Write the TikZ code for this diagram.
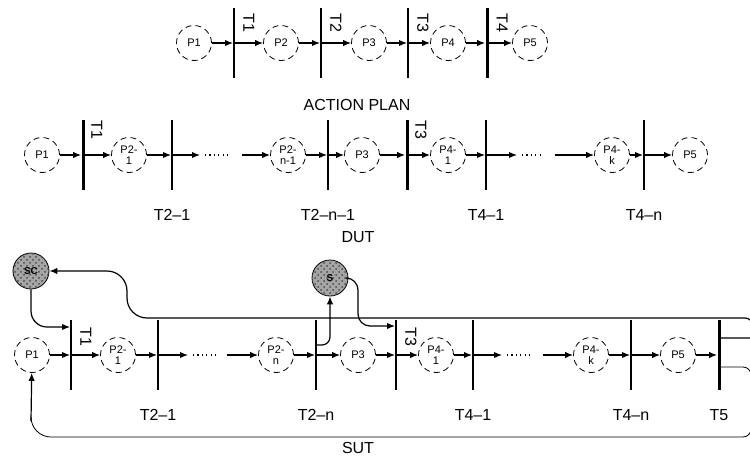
\documentclass[tikz,border=0pt]{standalone}
\usepackage{fontspec}
\setmainfont{Liberation Sans}
\definecolor{ShadeGray}{RGB}{165,165,165}
\usetikzlibrary{arrows.meta,positioning,calc,patterns}

\begin{document}
\begin{tikzpicture}[x=0.5pt,y=-0.5pt,
  place/.style={circle,draw,densely dashed,line width=0.4pt,minimum size=17.5pt,inner sep=0pt,align=center,font=\fontsize{5.5}{5.5}\selectfont},
  trans/.style={fill=black,minimum width=0.6pt,minimum height=35pt,inner sep=0pt},
  transbold/.style={trans,minimum width=1.5pt},
  shade/.style={circle,draw,fill=ShadeGray,postaction={pattern=crosshatch dots,pattern color=black!70},minimum size=18pt,inner sep=0pt,font=\fontsize{5}{5}\selectfont\bfseries},
  arc/.style={-{Latex[length=4pt,width=3.2pt]},line width=0.6pt},
  gap/.style={line width=0.6pt,dash pattern=on 0.6pt off 1.6pt},
  lbl/.style={font=\fontsize{8}{8}\selectfont},
  tlbl/.style={font=\fontsize{8}{8}\selectfont,rotate=-90,inner sep=0pt}]
\useasboundingbox (0,0) rectangle (750,461);

% Action plan
\node[place] (a1) at (194,43) {P1};
\node[trans] (at1) at (234,43) {};
\node[place] (a2) at (281,43) {P2};
\node[trans] (at2) at (321,43) {};
\node[place] (a3) at (369,43) {P3};
\node[trans] (at3) at (408,43) {};
\node[place] (a4) at (448,43) {P4};
\node[transbold] (at4) at (487,43) {};
\node[place] (a5) at (530,43) {P5};
\foreach \p/\t/\q in {a1/at1/a2,a2/at2/a3,a3/at3/a4,a4/at4/a5}{
  \draw[arc] (\p) -- (\t);
  \draw[arc] (\t) -- (\q);
}
\foreach \t/\l in {at1/T1,at2/T2,at3/T3,at4/T4}
  \node[tlbl] at ($(\t.north)+(15,15)$) {\l};
\node[lbl] (plan) at (357,105) {ACTION PLAN};

% DUT
\node[place] (d1) at (42,155) {P1};
\node[transbold] (dt1) at (83,155) {};
\node[place] (d21) at (129,155) {P2-\\1};
\node[trans] (dt21) at (172,155) {};
\coordinate (dg1) at (200,155);
\coordinate (dg2) at (242,155);
\node[place] (d2n) at (288,155) {P2-\\n-1};
\node[trans] (dt2n) at (328,155) {};
\node[place] (d3) at (362,155) {P3};
\node[transbold] (dt3) at (407,155) {};
\node[place] (d41) at (448,155) {P4-\\1};
\node[trans] (dt41) at (486,155) {};
\coordinate (dg3) at (517,155);
\coordinate (dg4) at (555,155);
\node[place] (d4k) at (612,155) {P4-\\k};
\node[trans] (dt4n) at (644,155) {};
\node[place] (d5) at (690,155) {P5};
\foreach \p/\q in {d1/dt1,dt1/d21,d21/dt21,dt21/dg1,dg2/d2n,d2n/dt2n,dt2n/d3,d3/dt3,dt3/d41,d41/dt41,dt41/dg3,dg4/d4k,d4k/dt4n,dt4n/d5}
  \draw[arc] (\p) -- (\q);
\draw[gap] ($(dg1)+(5,0)$) -- ($(dg2)+(-12,0)$);
\draw[gap] ($(dg3)+(5,0)$) -- ($(dg4)+(-12,0)$);
\node[tlbl] at ($(dt1.north)+(14,10)$) {T1};
\node[tlbl] at ($(dt3.north)+(14,10)$) {T3};
\foreach \t/\l in {dt21/T2--1,dt2n/T2--n--1,dt41/T4--1,dt4n/T4--n}
  \node[lbl,below=6pt of \t] {\l};
\node[lbl] (dut) at (358,237) {DUT};

% SUT
\node[place] (s1) at (32,355) {P1};
\node[trans] (st1) at (71,355) {};
\node[place] (s21) at (118,355) {P2-\\1};
\node[trans] (st21) at (158,355) {};
\coordinate (sg1) at (188,355);
\coordinate (sg2) at (227,355);
\node[place] (s2n) at (276,355) {P2-\\n};
\node[trans] (st2n) at (316,355) {};
\node[place] (s3) at (358,355) {P3};
\node[trans] (st3) at (396,355) {};
\node[place] (s41) at (436,355) {P4-\\1};
\node[trans] (st41) at (473,355) {};
\coordinate (sg3) at (502,355);
\coordinate (sg4) at (543,355);
\node[place] (s4k) at (591,355) {P4-\\k};
\node[trans] (st4n) at (631,355) {};
\node[place] (s5) at (678,355) {P5};
\node[transbold] (st5) at (719,355) {};
\foreach \p/\q in {s1/st1,st1/s21,s21/st21,st21/sg1,sg2/s2n,s2n/st2n,st2n/s3,s3/st3,st3/s41,s41/st41,st41/sg3,sg4/s4k,s4k/st4n,st4n/s5,s5/st5}
  \draw[arc] (\p) -- (\q);
\draw[gap] ($(sg1)+(5,0)$) -- ($(sg2)+(-10,0)$);
\draw[gap] ($(sg3)+(5,0)$) -- ($(sg4)+(-10,0)$);
\node[tlbl] at ($(st1.north)+(15,17)$) {T1};
\node[tlbl] at ($(st3.north)+(15,17)$) {T3};
\foreach \t/\l in {st21/T2--1,st2n/T2--n,st41/T4--1,st4n/T4--n,st5/T5}
  \node[lbl,below=6pt of \t] {\l};
\node[lbl] (sut) at (358,448) {SUT};

% shaded places
\node[shade] (sc) at (31,271) {SC};
\node[shade] (sp) at (330,278) {S};
\draw[arc] ($(st5.east)+(0,-17)$) -- (753,338) [rounded corners=4pt] -- (753,318) [rounded corners=10pt] -- (127,318) -- (127,271) -- (sc);
\draw[arc,rounded corners=8pt] (sc) -- (31,327) -- ($(st1.west)+(0,-28)$);
\draw[arc,rounded corners=4pt] ($(st2n.east)+(0,-10)$) -| (sp);
\draw[arc,rounded corners=6pt] (sp) -- (358,278) -- (358,326) -- ($(st3.west)+(0,-29)$);
\draw[rounded corners=4pt] ($(st5.east)+(0,12)$) -- (751,367) -- (751,437) [rounded corners=10pt] -- (31,437) -- (31,420);
\draw[arc] (31,421) -- (s1);
\end{tikzpicture}
\end{document}
